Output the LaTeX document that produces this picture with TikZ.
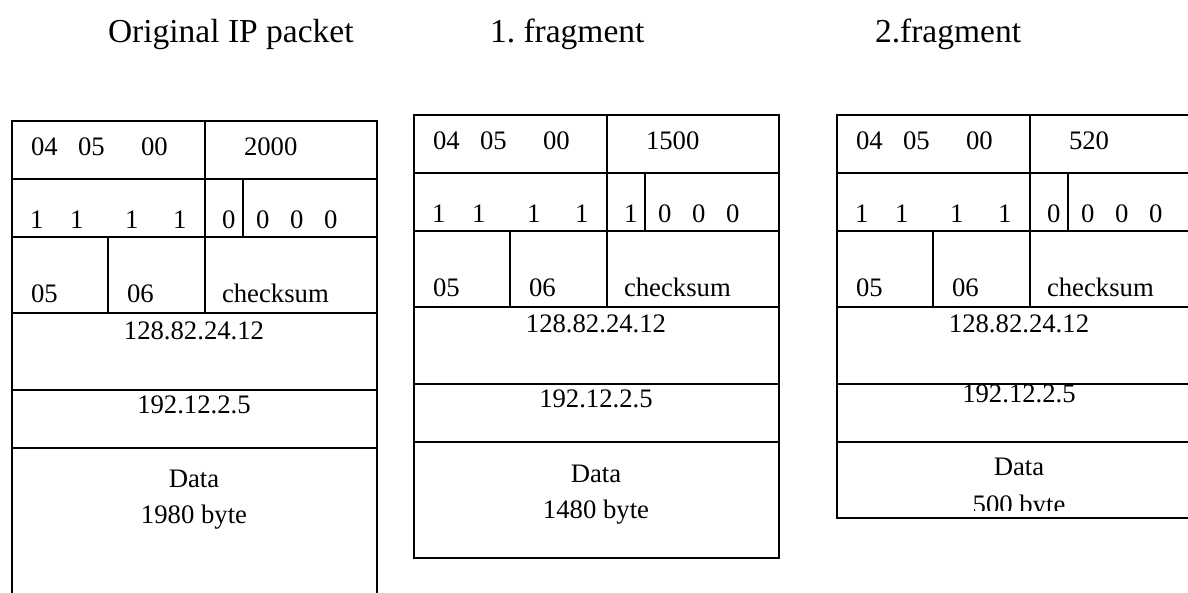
\documentclass[tikz,border=0pt]{standalone}
\usepackage{fontspec}
\setmainfont{Liberation Serif}
\frenchspacing
\tikzset{
  heavy/.style={line width=2pt},
  light/.style={line width=1.2pt},
  field/.style={anchor=base west, inner sep=0pt, outer sep=0pt,
    font=\fontsize{26.7}{30}\selectfont},
  cfield/.style={field, anchor=base},
  caption/.style={anchor=base west, inner sep=0pt, outer sep=0pt,
    font=\fontsize{33.5}{38}\selectfont},
}
% grid of one IPv4 header: #1 name, #2 left, #3 top, #4 bottom (relative)
\newcommand\ipframe[4]{%
  \begin{scope}[shift={(#2,#3)}]
    \draw[light] (0,116) -- (365,116) (0,192) -- (365,192) (0,269) -- (365,269);
    \draw[heavy] (0,58) -- (365,58) (0,327) -- (365,327);
    \draw[light] (193,0) -- (193,192);
    \draw[heavy] (231,58) -- (231,116) (96,116) -- (96,192);
    \draw[heavy] (0,0) rectangle (365,#4);
  \end{scope}}
% header fields: #1 name, #2 left, #3 top, #4 total length, #5 MF flag
\newcommand\ipheader[5]{%
  \begin{scope}[shift={(#2,#3)}]
    \node[field] (#1-ver)   at (19,35)  {04};
    \node[field] (#1-ihl)   at (66,35)  {05};
    \node[field] (#1-tos)   at (129,35) {00};
    \node[field] (#1-len)   at (232,35) {#4};
    \foreach \x [count=\i] in {18,58,113,161}
      \node[field] (#1-id\i) at (\x,108) {1};
    \node[field] (#1-mf)    at (210,108) {#5};
    \foreach \x [count=\i] in {244,278,312}
      \node[field] (#1-off\i) at (\x,108) {0};
    \node[field] (#1-ttl)   at (19,182)  {05};
    \node[field] (#1-proto) at (115,182) {06};
    \node[field] (#1-sum)   at (210,182) {checksum};
  \end{scope}}
\begin{document}
\begin{tikzpicture}[x=1pt,y=-1pt]
  \useasboundingbox (0,0) rectangle (1188,593);
  \fill[white] (0,0) rectangle (1188,593);
  \clip (0,0) rectangle (1188,593);

  % captions
  \node[caption] (cap0) at (108,43) {Original IP packet};
  \node[caption] (cap1) at (490,43) {1. fragment};
  \node[caption] (cap2) at (875,43) {2.fragment};

  % original packet
  \ipframe{p0}{12}{121}{600}
  \ipheader{p0}{12}{121}{2000}{0}
  \node[cfield] (p0-src)  at (194,340) {128.82.24.12};
  \node[cfield] (p0-dst)  at (194,413) {192.12.2.5};
  \node[cfield] (p0-data) at (194,487) {Data};
  \node[cfield] (p0-size) at (194,523) {1980 byte};

  % first fragment
  \ipframe{p1}{414}{115}{443}
  \ipheader{p1}{414}{115}{1500}{1}
  \node[cfield] (p1-src)  at (596,333) {128.82.24.12};
  \node[cfield] (p1-dst)  at (596,407) {192.12.2.5};
  \node[cfield] (p1-data) at (596,482) {Data};
  \node[cfield] (p1-size) at (596,518) {1480 byte};

  % second fragment
  \ipframe{p2}{837}{115}{403}
  \ipheader{p2}{837}{115}{520}{0}
  \node[cfield] (p2-src)  at (1019,333) {128.82.24.12};
  \node[cfield] (p2-dst)  at (1019,402) {192.12.2.5};
  \node[cfield] (p2-data) at (1019,475) {Data};
  \begin{scope}
    \clip (840,445) rectangle (1188,510);
    \node[cfield] (p2-size) at (1019,513) {500 byte};
  \end{scope}
\end{tikzpicture}
\end{document}
